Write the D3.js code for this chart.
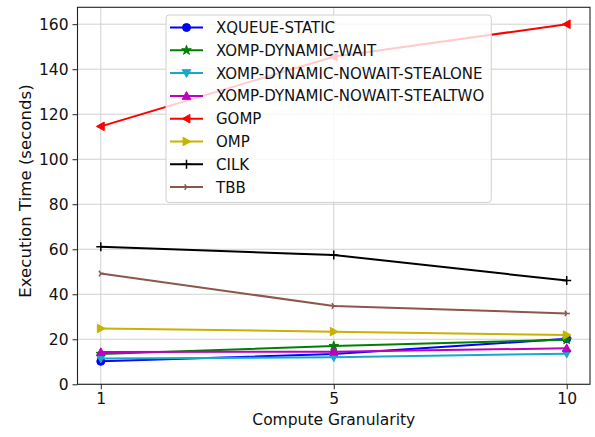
<!DOCTYPE html>
<html><head><meta charset="utf-8">
<script src="https://cdn.jsdelivr.net/npm/d3@7"></script>
<style>body{margin:0;background:#fff}svg{display:block}text{font-family:"DejaVu Sans",sans-serif}</style>
</head><body>
<script>
const categories = ["1", "5", "10"];
const yTicks = [0, 20, 40, 60, 80, 100, 120, 140, 160];
const seriesNames = ["XQUEUE-STATIC","XOMP-DYNAMIC-WAIT","XOMP-DYNAMIC-NOWAIT-STEALONE","XOMP-DYNAMIC-NOWAIT-STEALTWO","GOMP","OMP","CILK","TBB"];
const xqueueStatic = [10.2, 13.5, 20.2];
const xompWait = [13.5, 17.0, 19.8];
const xompStealOne = [11.5, 12.0, 13.6];
const xompStealTwo = [14.3, 14.5, 16.0];
const gomp = [114.6, 145.5, 160.0];
const omp = [24.8, 23.4, 21.9];
const cilk = [61.1, 57.4, 46.1];
const tbb = [49.2, 34.8, 31.5];
const seriesValues = [xqueueStatic, xompWait, xompStealOne, xompStealTwo, gomp, omp, cilk, tbb];
const colors = ["#0000ff","#008000","#17a9c9","#bf00bf","#ff0000","#c7b300","#000000","#8c564b"];
const markers = ["circle","star","tridown","triup","trileft","triright","plus","tri"];

const W = 595, H = 437;
const m = {left: 77.5, right: 590, top: 7.3, bottom: 384.3};
const svg = d3.select("body").append("svg").attr("width", W).attr("height", H);

// matplotlib margins: 5% of data span on each side
const span = m.right - m.left;
const x = d3.scalePoint().domain(categories)
  .range([m.left + span * (0.1 / 2.2), m.right - span * (0.1 / 2.2)]);
const y = d3.scaleLinear().domain([0, 167.5]).range([m.bottom, m.top]);

// grid
const g = svg.append("g");
g.selectAll(".gy").data(yTicks).join("line")
  .attr("x1", m.left).attr("x2", m.right).attr("y1", d => y(d)).attr("y2", d => y(d))
  .attr("stroke", "#d0d0d0").attr("stroke-width", 1);
g.selectAll(".gx").data(categories).join("line")
  .attr("x1", d => x(d)).attr("x2", d => x(d)).attr("y1", m.top).attr("y2", m.bottom)
  .attr("stroke", "#d0d0d0").attr("stroke-width", 1);

function markerPath(type, r) {
  switch (type) {
    case "circle": return d3.symbol(d3.symbolCircle, Math.PI * r * r)();
    case "star": return d3.symbol(d3.symbolStar, 2.2 * r * r)();
    case "triup": return `M0,${-r}L${r},${r*0.8}L${-r},${r*0.8}Z`;
    case "tridown": return `M0,${r}L${r},${-r*0.8}L${-r},${-r*0.8}Z`;
    case "trileft": return `M${-r},0L${r*0.8},${-r}L${r*0.8},${r}Z`;
    case "triright": return `M${r},0L${-r*0.8},${-r}L${-r*0.8},${r}Z`;
    case "plus": return `M${-r},0L${r},0M0,${-r}L0,${r}`;
    case "tri": return `M0,0L${r*0.9},0M0,0L${-r*0.5},${-r*0.8}M0,0L${-r*0.5},${r*0.8}`;
  }
}
const sizes = {circle: 4, star: 3.6, tridown: 4.3, triup: 4.3, trileft: 4.3, triright: 4.3, plus: 4.5, tri: 3.5};
const line = d3.line().x((d, i) => x(categories[i])).y(d => y(d));

const plot = svg.append("g");
seriesValues.forEach((vals, si) => {
  const sg = plot.append("g");
  sg.append("path").attr("d", line(vals)).attr("fill", "none")
    .attr("stroke", colors[si]).attr("stroke-width", 2);
  const mk = markers[si];
  const open = mk === "plus" || mk === "tri";
  sg.selectAll("path.mk").data(vals).join("path").attr("class", "mk")
    .attr("transform", (d, i) => `translate(${x(categories[i])},${y(d)})`)
    .attr("d", markerPath(mk, sizes[mk]))
    .attr("fill", open ? "none" : colors[si])
    .attr("stroke", colors[si]).attr("stroke-width", open ? 1.5 : 1);
});

// frame
svg.append("rect").attr("x", m.left).attr("y", m.top).attr("width", m.right - m.left)
  .attr("height", m.bottom - m.top).attr("fill", "none").attr("stroke", "#222").attr("stroke-width", 1.1);

// axes
const xAxis = svg.append("g").attr("transform", `translate(0,${m.bottom})`)
  .call(d3.axisBottom(x).tickSize(5).tickPadding(4));
const yAxis = svg.append("g").attr("transform", `translate(${m.left},0)`)
  .call(d3.axisLeft(y).tickValues(yTicks).tickSize(5).tickPadding(4));
[xAxis, yAxis].forEach(a => {
  a.select(".domain").remove();
  a.selectAll("line").attr("stroke", "#222");
  a.selectAll("text").attr("font-size", 15.5).attr("fill", "#111").attr("font-family", "DejaVu Sans");
});

svg.append("text").attr("x", (m.left + m.right) / 2).attr("y", 425)
  .attr("text-anchor", "middle").attr("font-size", 15.5).attr("fill", "#111").text("Compute Granularity");
svg.append("text").attr("transform", `translate(31,191) rotate(-90)`)
  .attr("text-anchor", "middle").attr("font-size", 16.6).attr("fill", "#111").text("Execution Time (seconds)");

// legend
const lg = svg.append("g");
const lx = 166, ly = 15, rowH = 22.8;
const lrect = lg.append("rect").attr("x", lx).attr("y", ly).attr("rx", 3).attr("ry", 3)
  .attr("fill", "#fff").attr("fill-opacity", 0.8).attr("stroke", "#d0d0d0").attr("stroke-width", 1);
let maxW = 0;
seriesNames.forEach((name, i) => {
  const cy = ly + 12.5 + i * rowH;
  lg.append("line").attr("x1", lx + 4).attr("x2", lx + 37).attr("y1", cy).attr("y2", cy)
    .attr("stroke", colors[i]).attr("stroke-width", 2);
  const mk = markers[i];
  const open = mk === "plus" || mk === "tri";
  lg.append("path").attr("transform", `translate(${lx + 20.5},${cy})`)
    .attr("d", markerPath(mk, sizes[mk]))
    .attr("fill", open ? "none" : colors[i]).attr("stroke", colors[i]).attr("stroke-width", open ? 1.5 : 1);
  const t = lg.append("text").attr("x", lx + 50).attr("y", cy).attr("dy", "0.36em")
    .attr("font-size", 15).attr("fill", "#111").text(name);
  maxW = Math.max(maxW, t.node().getComputedTextLength());
});
lrect.attr("width", 50 + maxW + 7).attr("height", 8 * rowH + 5);
</script>
</body></html>
